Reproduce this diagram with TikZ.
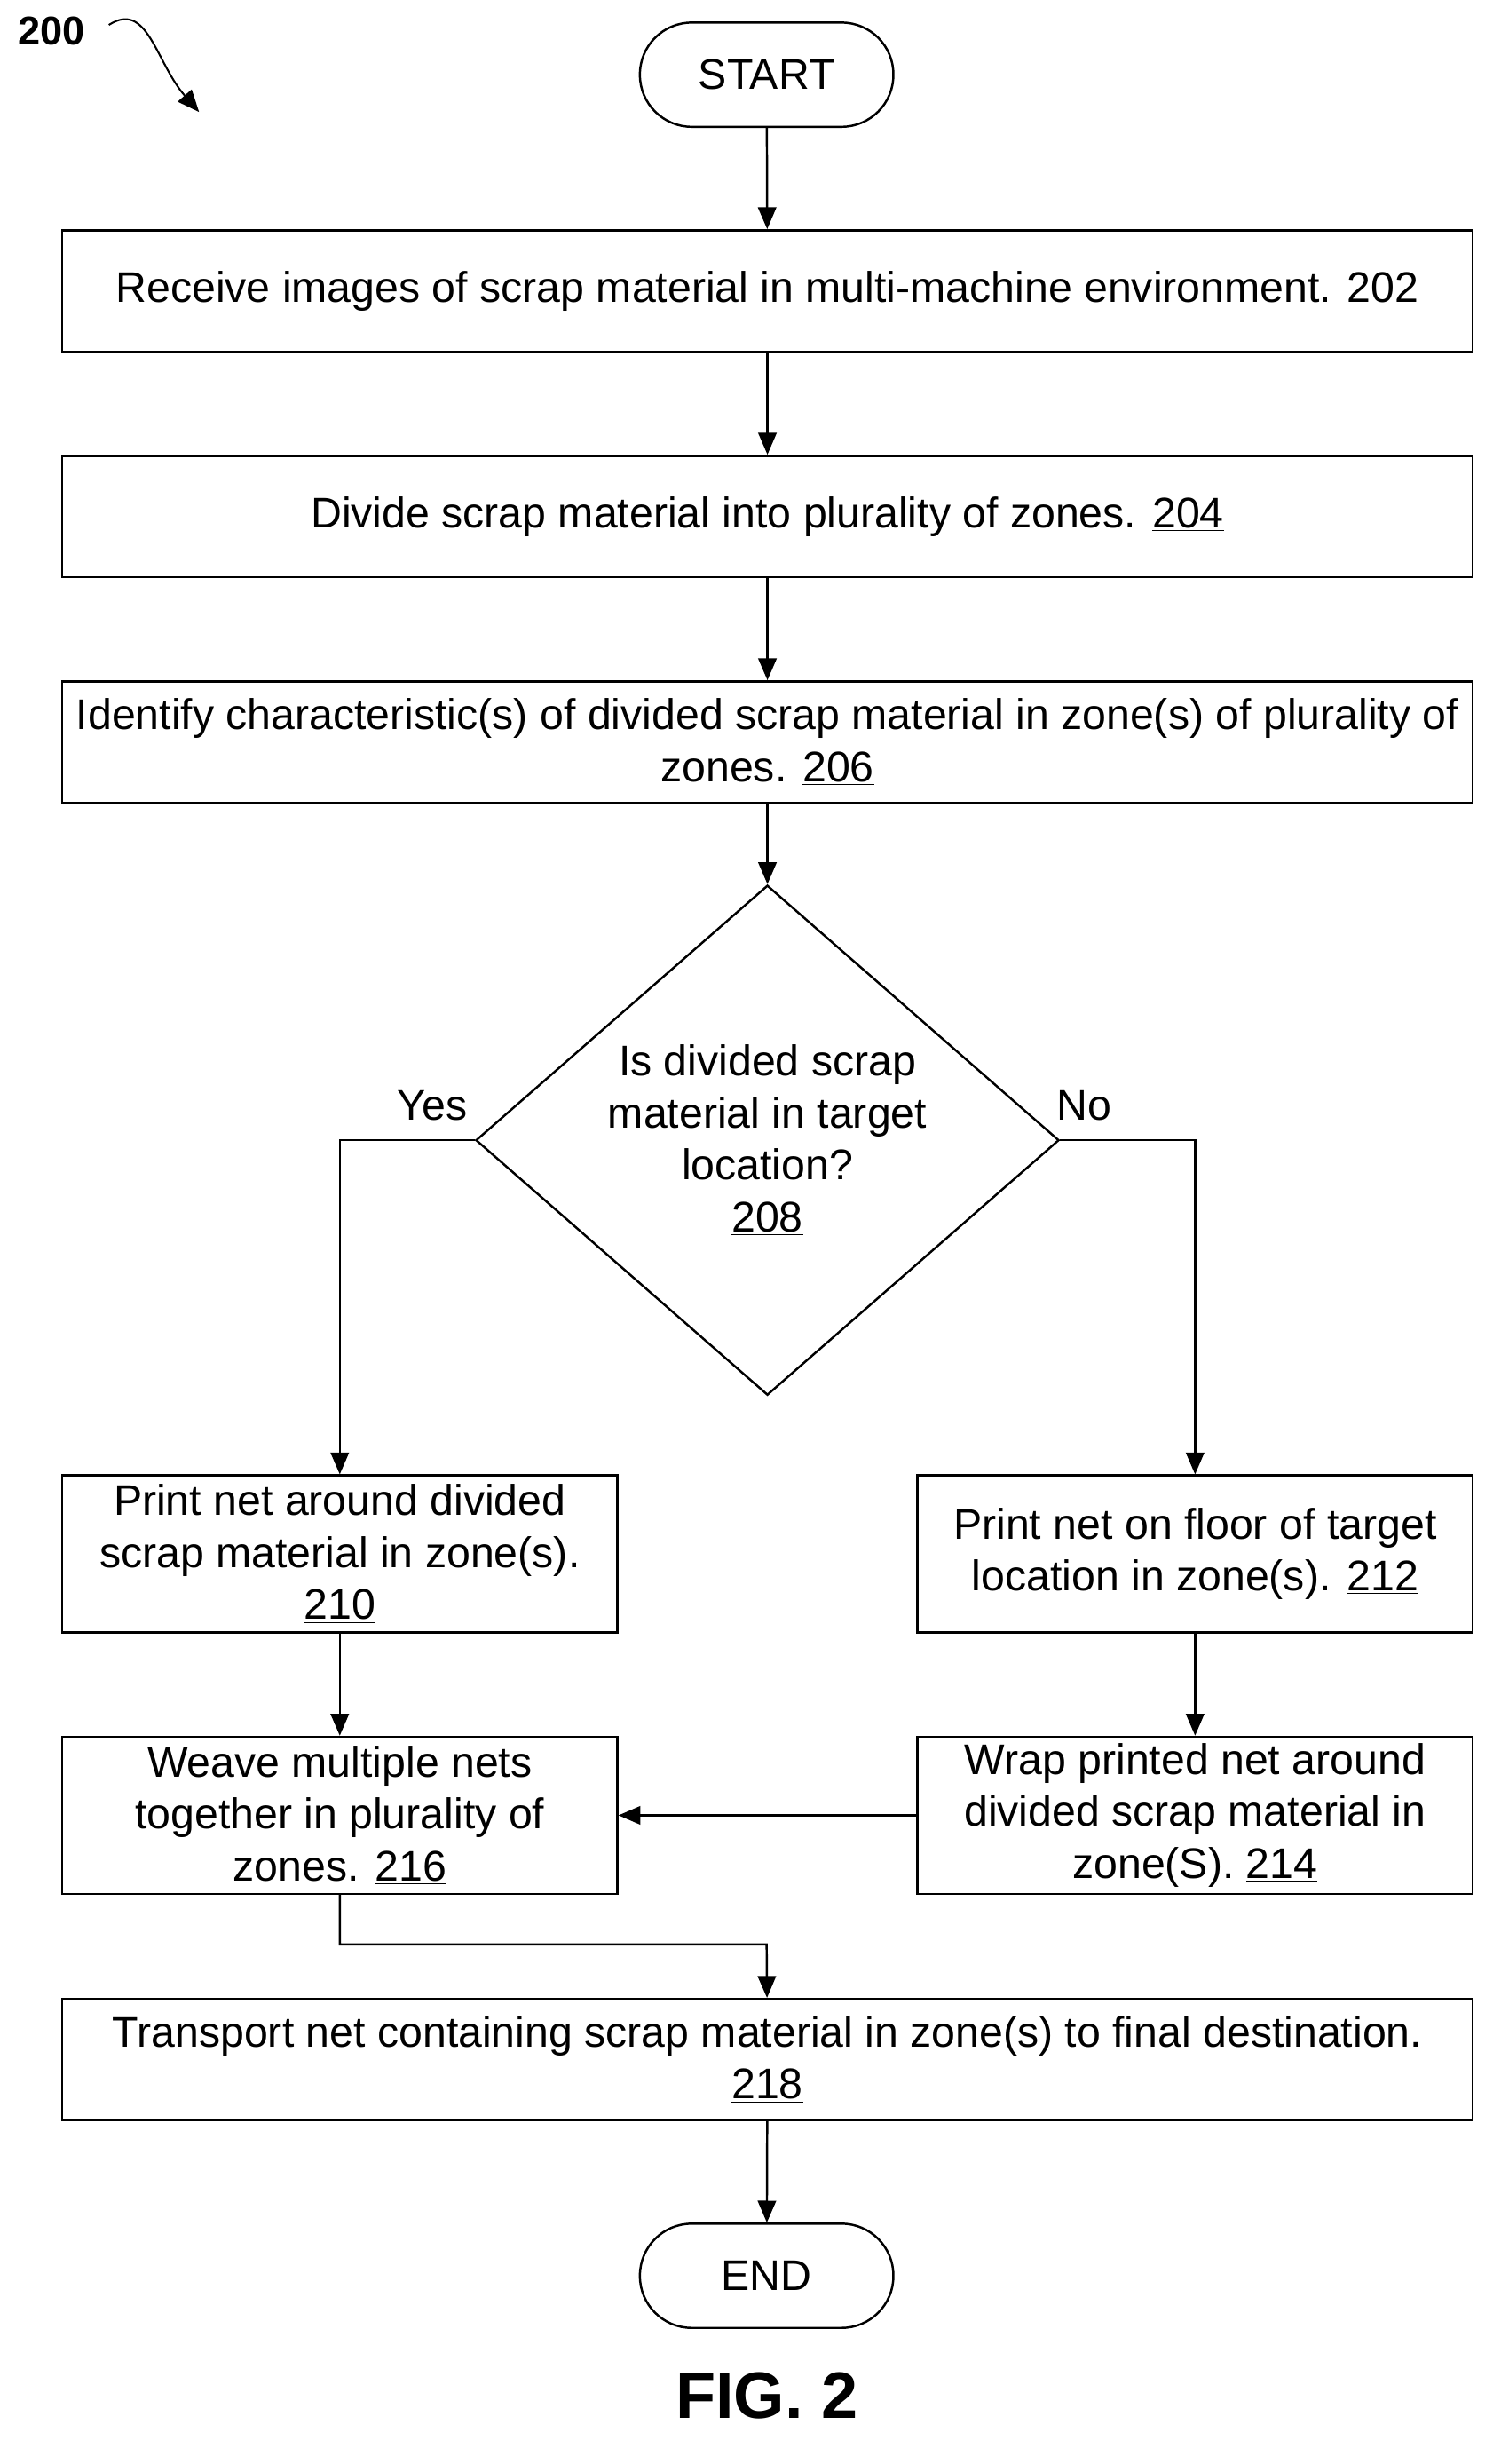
\documentclass[tikz,border=0pt]{standalone}
\usepackage{fontspec}
\setmainfont{Liberation Sans}
\usetikzlibrary{shapes.geometric,arrows.meta}
\begin{document}
\begin{tikzpicture}[x=0.03cm,y=-0.03cm]
	\tikzset{
		wide/.style={draw, line width=1.2pt, minimum width=27.21cm, minimum height=2.34cm, align=center, inner sep=2pt},
		half/.style={draw, line width=1.2pt, minimum width=10.71cm, minimum height=3.03cm, align=center, inner sep=2pt},
		term/.style={draw, line width=1.2pt, rounded corners=1cm, minimum width=4.89cm, minimum height=2.01cm},
		dec/.style={draw, line width=1.2pt, diamond, minimum width=11.25cm, minimum height=8.91cm, inner sep=0pt, align=center},
		arr/.style={line width=1.2pt, -{Triangle[length=12pt,width=10pt]}},
		every node/.style={font=\fontsize{23.5}{28.5}\selectfont}
	};
	\useasboundingbox (0,0) rectangle (970,1584);

	\node[term] (start) at (493, 48) {START};
	\node[wide] (202) at (493.5, 187) {Receive images of scrap material in multi-machine environment. \underline{202}};
	\node[wide] (204) at (493.5, 332) {Divide scrap material into plurality of zones. \underline{204}};
	\node[wide] (206) at (493.5, 477) {Identify characteristic(s) of divided scrap material in zone(s) of plurality of\\zones. \underline{206}};
	\node[dec] (208) at (493.5, 733) {Is divided scrap\\material in target\\location?\\\underline{208}};
	\node[half] (210) at (218.5, 999) {Print net around divided\\scrap material in zone(s).\\\underline{210}};
	\node[half] (212) at (768.5, 999) {Print net on floor of target\\location in zone(s). \underline{212}};
	\node[half] (216) at (218.5, 1167) {Weave multiple nets\\together in plurality of\\zones. \underline{216}};
	\node[half] (214) at (768.5, 1167) {Wrap printed net around\\divided scrap material in\\zone(S). \underline{214}};
	\node[wide] (218) at (493.5, 1324) {Transport net containing scrap material in zone(s) to final destination.\\\underline{218}};
	\node[term] (end) at (493, 1463) {END};

	\node (yes) at (278, 711) {Yes};
	\node (no) at (697, 711) {No};
	\node[font=\bfseries\fontsize{22}{26}\selectfont] (fig) at (33, 20) {200};
	\node[font=\bfseries\fontsize{36}{42}\selectfont] (cap) at (493, 1540) {FIG. 2};
	\coordinate (bend) at (493, 1250);

	\draw[arr] (start) -- (202);
	\draw[arr] (202) -- (204);
	\draw[arr] (204) -- (206);
	\draw[arr] (206) -- (208);
	\draw[arr] (208.west) -| (210);
	\draw[arr] (208.east) -| (212);
	\draw[arr] (210) -- (216);
	\draw[arr] (212) -- (214);
	\draw[arr] (214) -- (216);
	\draw[arr] (216.south) |- (bend) -- (218);
	\draw[arr] (218) -- (end);
	\draw[line width=1pt, -{Triangle[length=12pt,width=10pt]}] (70, 16) .. controls (95, 0) and (100, 40) .. (128, 72);
\end{tikzpicture}
\end{document}
